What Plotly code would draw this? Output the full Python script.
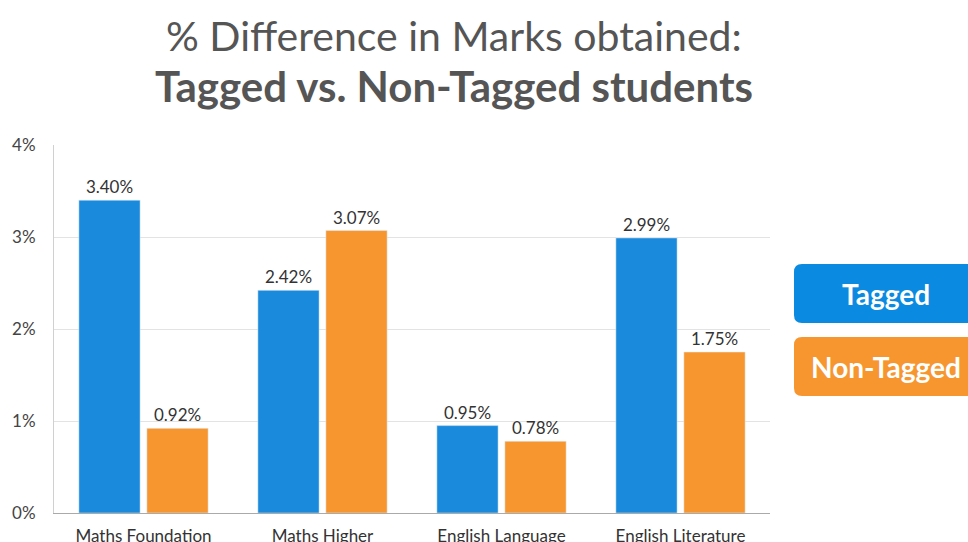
import plotly.graph_objs as go

subjects = ['Maths Foundation', 'Maths Higher', 'English Language', 'English Literature']
tagged = [3.40, 2.42, 0.95, 2.99]
non_tagged = [0.92, 3.07, 0.78, 1.75]
y_ticks = [0, 1, 2, 3, 4]
y_labels = [f'{v}%' for v in y_ticks]

W, H = 968, 542
L, R, T, B = 54, 198, 145, 29
PW, PH = W - L - R, H - T - B

blue = '#1a8bdc'
orange = '#f7962f'
font = 'Lato, Open Sans, sans-serif'


def px(x):
    return (x - L) / PW


def py(y):
    return (H - B - y) / PH


def round_box(x0, y0, x1, y1, r, color):
    # rounded rect in pixel coords -> paper coords
    pts = [
        f'M {px(x0 + r)},{py(y0)}',
        f'L {px(x1 - r)},{py(y0)}',
        f'Q {px(x1)},{py(y0)} {px(x1)},{py(y0 + r)}',
        f'L {px(x1)},{py(y1 - r)}',
        f'Q {px(x1)},{py(y1)} {px(x1 - r)},{py(y1)}',
        f'L {px(x0 + r)},{py(y1)}',
        f'Q {px(x0)},{py(y1)} {px(x0)},{py(y1 - r)}',
        f'L {px(x0)},{py(y0 + r)}',
        f'Q {px(x0)},{py(y0)} {px(x0 + r)},{py(y0)}',
        'Z',
    ]
    return dict(type='path', xref='paper', yref='paper', path=' '.join(pts),
                fillcolor=color, line=dict(width=0), layer='above')


def label(text, x, y, size, color):
    return dict(text=text, xref='paper', yref='paper', x=px(x), y=py(y),
                xanchor='center', yanchor='middle', showarrow=False,
                font=dict(size=size, color=color))


fig = go.Figure()
fig.add_trace(go.Bar(x=subjects, y=tagged, name='Tagged', marker_color=blue,
                     texttemplate='%{y:.2f}%', textposition='outside',
                     textfont=dict(size=17, color='#333', family=font),
                     cliponaxis=False))
fig.add_trace(go.Bar(x=subjects, y=non_tagged, name='Non-Tagged', marker_color=orange,
                     texttemplate='%{y:.2f}%', textposition='outside',
                     textfont=dict(size=17, color='#333', family=font),
                     cliponaxis=False))

fig.update_layout(
    width=W, height=H,
    margin=dict(l=L, r=R, t=T, b=B, autoexpand=False),
    paper_bgcolor='white', plot_bgcolor='white',
    font=dict(family=font, color='#444', size=17),
    barmode='group', bargap=0.24, bargroupgap=0.1,
    showlegend=False,
    shapes=[round_box(794, 264, 990, 323, 8, '#0a8ae0'),
            round_box(794, 337, 990, 396, 8, '#f7962f')],
    annotations=[
        label('% Difference in Marks obtained:', 454, 36, 41, '#555'),
        label('<b>Tagged vs. Non-Tagged students</b>', 454, 86, 42, '#555'),
        label('<b>Tagged</b>', 886, 294, 28, 'white'),
        label('<b>Non-Tagged</b>', 886, 367, 28, 'white'),
    ],
)
fig.update_yaxes(range=[0, 4], tickvals=y_ticks, ticktext=y_labels,
                 gridcolor='#e3e3e3', showline=True, linecolor='#d0d0d0',
                 zeroline=False, ticks='outside', ticklen=14, tickcolor='white',
                 tickfont=dict(size=17, color='#444'))
fig.update_xaxes(showline=True, linecolor='#aaaaaa', ticks='outside', ticklen=8,
                 tickcolor='white', tickfont=dict(size=17, color='#333'))

fig.write_html('out.html', config={'displayModeBar': False},
               post_script="document.body.style.margin='0';")
